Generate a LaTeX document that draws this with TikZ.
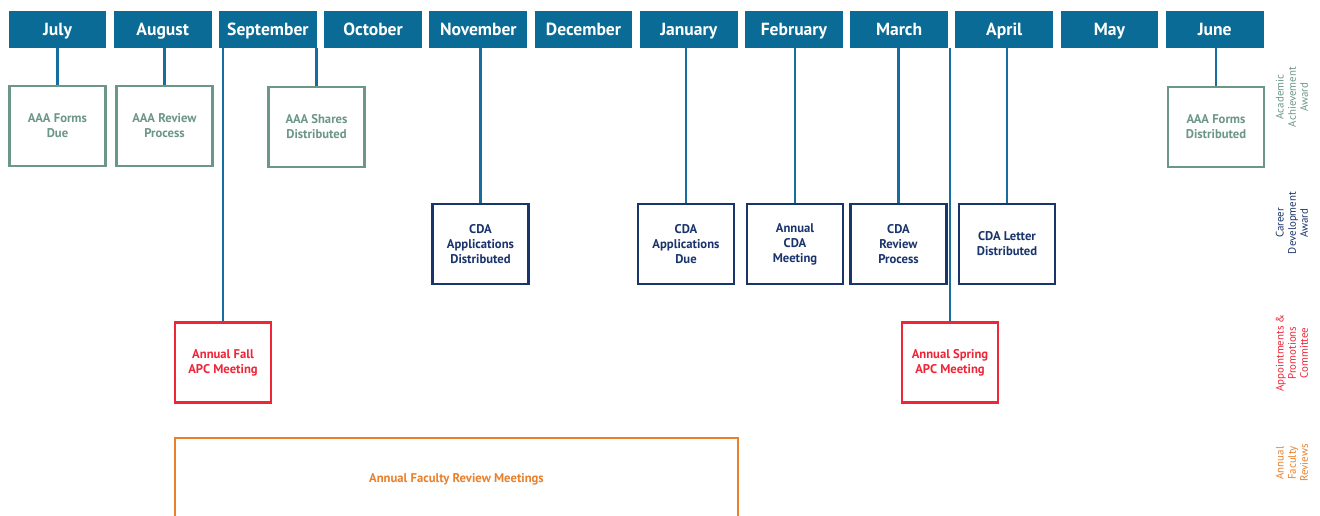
\documentclass[tikz,border=0pt]{standalone}
\usepackage{fontspec}
\setmainfont{PT Sans}
\usetikzlibrary{positioning}

\definecolor{hdblue}{RGB}{10,108,150}
\definecolor{lnblue}{RGB}{22,110,160}
\definecolor{aaagreen}{RGB}{108,150,134}
\definecolor{cdanavy}{RGB}{26,52,108}
\definecolor{apcred}{RGB}{238,38,56}
\definecolor{afrorange}{RGB}{232,128,44}

\begin{document}
\begin{tikzpicture}[x=0.02cm,y=-0.02cm,
    month/.style={fill=hdblue,text=white,font=\bfseries\fontsize{10}{12}\selectfont,
                  text height=8pt,text depth=1pt,
                  minimum width=1.96cm,minimum height=0.74cm,inner sep=0pt},
    ev/.style={draw,line width=1.5pt,fill=white,align=center,inner sep=1pt,
               font=\bfseries\fontsize{7.2}{8.5}\selectfont,
               minimum width=1.92cm,minimum height=1.6cm},
    aaa/.style={ev,draw=aaagreen,text=aaagreen},
    cda/.style={ev,draw=cdanavy,text=cdanavy},
    apc/.style={ev,draw=apcred,text=apcred},
    link/.style={draw=lnblue,line width=1.4pt},
    side/.style={rotate=90,align=center,font=\fontsize{6.2}{6.9}\selectfont}]
  \useasboundingbox (0,0) rectangle (1320,515);

  % month header
  \foreach \m [count=\i from 0] in {July,August,September,October,November,December,
                                    January,February,March,April,May,June}
    \node[month] (m\i) at (57.5+\i*105.2,29.5) {\m};

  % Academic Achievement Award
  \node[aaa] (aaa1) at (57.5,126)  {AAA Forms\\Due};
  \node[aaa] (aaa2) at (164.5,126) {AAA Review\\Process};
  \node[aaa] (aaa3) at (316.5,127) {AAA Shares\\Distributed};
  \node[aaa] (aaa4) at (1216,127)  {AAA Forms\\Distributed};

  % Career Development Award
  \node[cda] (cda1) at (480.5,244) {CDA\\Applications\\Distributed};
  \node[cda] (cda2) at (686,244)   {CDA\\Applications\\Due};
  \node[cda] (cda3) at (795,244)   {Annual\\CDA\\Meeting};
  \node[cda] (cda4) at (898.5,244) {CDA\\Review\\Process};
  \node[cda] (cda5) at (1007,244)  {CDA Letter\\Distributed};

  % Appointments & Promotions Committee
  \node[apc] (apc1) at (223,362.5) {Annual Fall\\APC Meeting};
  \node[apc] (apc2) at (950,362.5) {Annual Spring\\APC Meeting};

  % Annual Faculty Reviews
  \node[ev,draw=afrorange,text=afrorange,minimum width=11.26cm,minimum height=1.66cm]
    (afr) at (456.5,479.5) {Annual Faculty Review Meetings};

  % connectors
  \draw[link] (aaa1.north) -- (aaa1.north |- m0.south);
  \draw[link] (aaa2.north) -- (aaa2.north |- m1.south);
  \draw[link] (aaa3.north) -- (aaa3.north |- m2.south);
  \draw[link] (apc1.north) -- (apc1.north |- m2.south);
  \draw[link] (cda1.north) -- (cda1.north |- m4.south);
  \draw[link] (cda2.north) -- (cda2.north |- m6.south);
  \draw[link] (cda3.north) -- (cda3.north |- m7.south);
  \draw[link] (cda4.north) -- (cda4.north |- m8.south);
  \draw[link] (apc2.north) -- (apc2.north |- m8.south);
  \draw[link] (cda5.north) -- (cda5.north |- m9.south);
  \draw[link] (aaa4.north) -- (aaa4.north |- m11.south);

  % row labels
  \node[side,text=aaagreen]  (lbaaa) at (1292,97)  {Academic\\Achievement\\Award};
  \node[side,text=cdanavy]   (lbcda) at (1292,223) {Career\\Development\\Award};
  \node[side,text=apcred]    (lbapc) at (1292,353) {Appointments \&\\Promotions\\Committee};
  \node[side,text=afrorange] (lbafr) at (1292,463) {Annual\\Faculty\\Reviews};
\end{tikzpicture}
\end{document}
